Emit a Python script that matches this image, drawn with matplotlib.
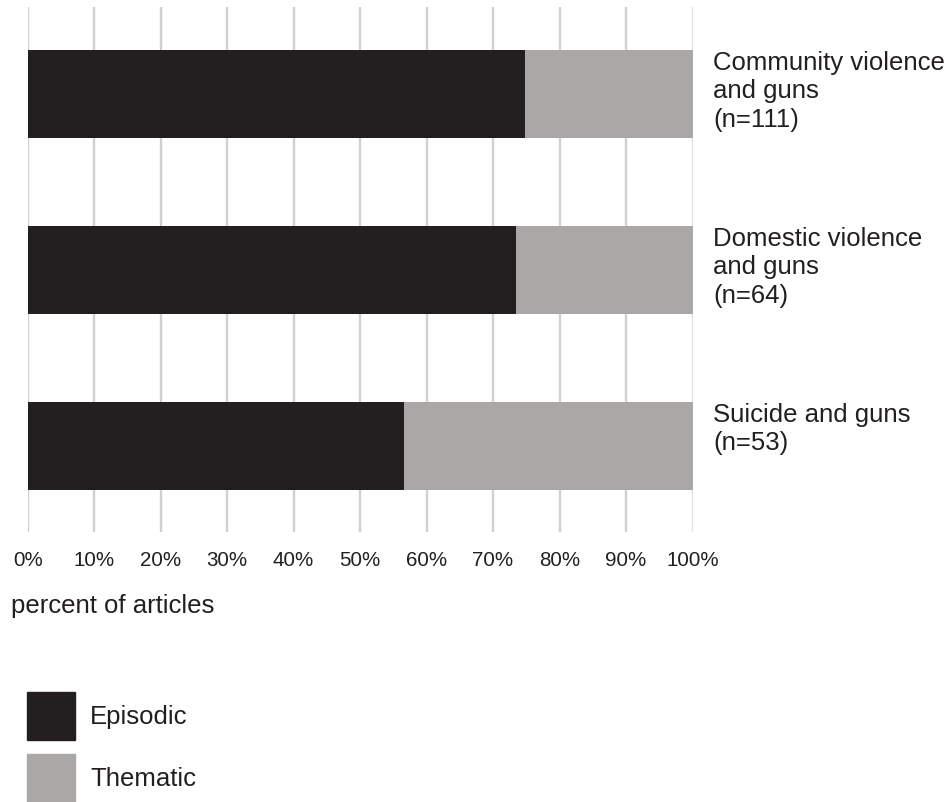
import matplotlib
matplotlib.use("Agg")
import matplotlib.pyplot as plt
from matplotlib.patches import Rectangle

# ---- data ----
categories = ["Community violence\nand guns\n(n=111)",
              "Domestic violence\nand guns\n(n=64)",
              "Suicide and guns\n(n=53)"]
episodic = [74.8, 73.4, 56.6]
thematic = [100 - v for v in episodic]
series_names = ["Episodic", "Thematic"]
series_colors = ["#231f20", "#a9a8a7"]
xticks = list(range(0, 101, 10))
xtick_labels = [f"{t}%" for t in xticks]
xlabel = "percent of articles"

plt.rcParams['font.family'] = ['Liberation Sans', 'DejaVu Sans']
text_color = "#231f20"

W, H = 951, 803
fig = plt.figure(figsize=(W / 100, H / 100), dpi=100)
ax_left, ax_right = 27.7, 692.5
ax_top, ax_bot = 8, 533
ax = fig.add_axes([ax_left / W, 1 - ax_bot / H, (ax_right - ax_left) / W, (ax_bot - ax_top) / H])

y = list(range(len(categories)))
bar_h = 0.5
ax.barh(y, episodic, height=bar_h, color=series_colors[0], zorder=3)
ax.barh(y, thematic, left=episodic, height=bar_h, color=series_colors[1], zorder=3)

ax.set_xlim(0, 100)
ax.set_ylim(2.489, -0.494)

for t in xticks:
    ax.axvline(t, color="#e3e3e3" if t == 100 else "#d0d0d0", lw=1.7, zorder=1)

for s in ax.spines.values():
    s.set_visible(False)
ax.set_yticks([])
ax.set_xticks(xticks)
ax.set_xticklabels(xtick_labels, fontsize=14.8, color=text_color)
ax.tick_params(axis="x", length=0, pad=13)

for yi, lab in zip(y, categories):
    ax.text(103.1, yi - bar_h / 2, lab, ha="left", va="top", fontsize=18.5,
            color=text_color, linespacing=1.23, clip_on=False)

fig.text(11 / W, 1 - 613 / H, xlabel, fontsize=18.5, color=text_color,
         ha="left", va="baseline")

# legend
sq = 48
for i, (name, col) in enumerate(zip(series_names, series_colors)):
    top = 693 + i * 62
    fig.add_artist(Rectangle((27 / W, 1 - (top + sq) / H), sq / W, sq / H,
                             transform=fig.transFigure, color=col))
    fig.text(90 / W, 1 - (top + sq / 2) / H, name, fontsize=18.5,
             color=text_color, ha="left", va="center")

fig.savefig("out.png", dpi=100)
